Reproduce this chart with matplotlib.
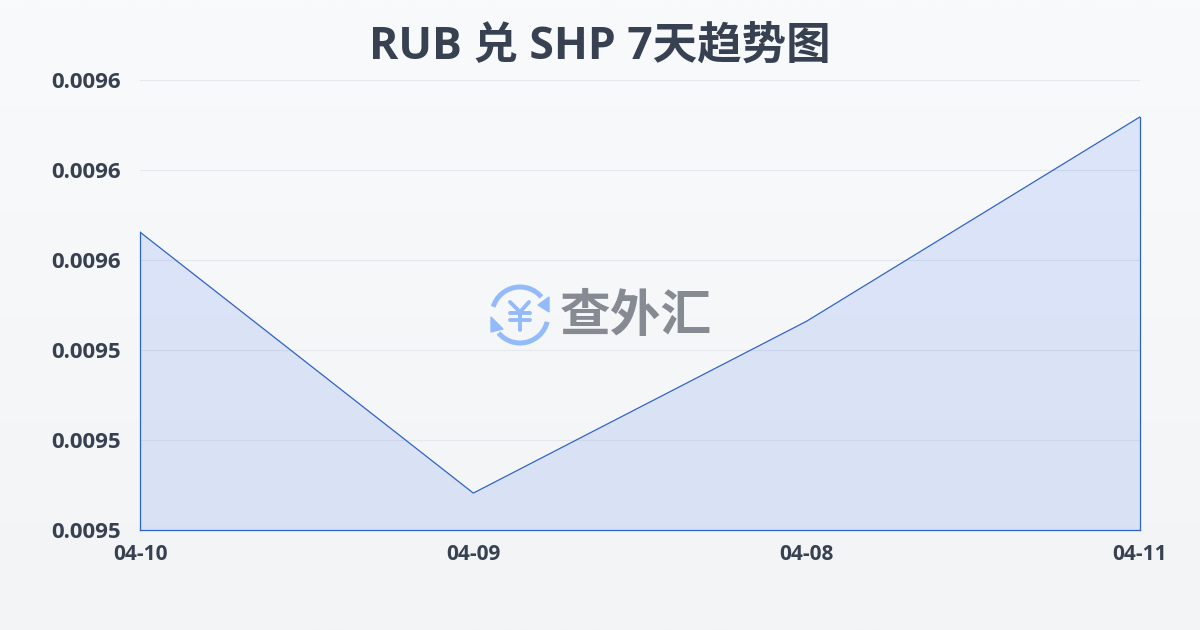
import matplotlib
matplotlib.use('Agg')
import matplotlib.pyplot as plt
from matplotlib.patches import Arc, Polygon
import numpy as np

FONT = ['Open Sans', 'Noto Sans CJK SC', 'DejaVu Sans']
plt.rcParams['font.family'] = FONT

dates = ['04-10', '04-09', '04-08', '04-11']
rates = [0.0095662, 0.0095082, 0.0095464, 0.0095918]
y_ticks = [0.00950, 0.00952, 0.00954, 0.00956, 0.00958, 0.00960]
y_labels = ['0.0095', '0.0095', '0.0095', '0.0096', '0.0096', '0.0096']
title = 'RUB 兑 SHP 7天趋势图'

TEXT = '#374151'
LINE = '#2f62c8'
W, H = 1200, 630

fig = plt.figure(figsize=(12, 6.3), dpi=100)

# page background, light vertical gradient
bg = fig.add_axes([0, 0, 1, 1], zorder=0)
bg.imshow(np.linspace(0, 1, 256).reshape(-1, 1), aspect='auto', extent=[0, W, H, 0],
          cmap=matplotlib.colors.LinearSegmentedColormap.from_list('bg', ['#f9fafc', '#f3f4f6']))
bg.set_xlim(0, W)
bg.set_ylim(H, 0)
bg.axis('off')

ax = fig.add_axes([140 / W, 1 - 530 / H, 1000 / W, 450 / H], zorder=1)
ax.patch.set_alpha(0)
x = np.arange(len(dates))
ax.fill_between(x, rates, y_ticks[0], color='#2563eb', alpha=0.13, linewidth=0, zorder=2)
# outline of the area, all four sides
ax.plot(x, rates, color=LINE, linewidth=0.9, zorder=3)
ax.plot([x[0], x[0]], [y_ticks[0], rates[0]], color=LINE, linewidth=0.9, zorder=3, clip_on=False)
ax.plot([x[-1], x[-1]], [y_ticks[0], rates[-1]], color=LINE, linewidth=0.9, zorder=3, clip_on=False)
ax.plot([x[0], x[-1]], [y_ticks[0], y_ticks[0]], color=LINE, linewidth=0.9, zorder=3, clip_on=False)

ax.set_xlim(x[0], x[-1])
ax.set_ylim(y_ticks[0], y_ticks[-1])
ax.set_xticks(x, dates)
ax.set_yticks(y_ticks, y_labels)
ax.grid(axis='y', color='#e5e7eb', linewidth=0.8, zorder=1)
ax.set_axisbelow(True)
for s in ax.spines.values():
    s.set_visible(False)
ax.tick_params(axis='x', length=0, pad=10, labelsize=15, labelcolor=TEXT)
ax.tick_params(axis='y', length=0, pad=14, labelsize=16, labelcolor=TEXT)
for lab in ax.get_xticklabels() + ax.get_yticklabels():
    lab.set_fontweight('bold')
for lab in ax.get_yticklabels():
    lab.set_y(lab.get_position()[1])

fig.text(0.5, 1 - 47 / H, title, ha='center', va='center', fontsize=32,
         fontweight='bold', color=TEXT)

# watermark logo in pixel coordinates
logo = fig.add_axes([0, 0, 1, 1], zorder=2)
logo.set_xlim(0, W)
logo.set_ylim(H, 0)
logo.axis('off')
logo.patch.set_alpha(0)
BLUE = '#93bbf9'
cx, cy, r = 520, 315, 28
# y axis is flipped here, so Arc angles run clockwise on screen
logo.add_patch(Arc((cx, cy), 2 * r, 2 * r, theta1=197, theta2=320, color=BLUE, linewidth=3.6))
logo.add_patch(Arc((cx, cy), 2 * r, 2 * r, theta1=14, theta2=140, color=BLUE, linewidth=3.6))
logo.add_patch(Polygon([[549, 297], [549, 312], [538, 305]], color=BLUE))
logo.add_patch(Polygon([[491, 317], [491, 332], [503, 329]], color=BLUE))
# yen sign of the icon
yen = dict(color=BLUE, linewidth=2.8, solid_capstyle='round', solid_joinstyle='round')
logo.plot([510, 520, 529], [302, 312, 302], **yen)
logo.plot([510, 530], [313, 313], **yen)
logo.plot([510, 530], [320, 320], **yen)
logo.plot([520, 520], [313, 330], **yen)
logo.text(636, 317, '查外汇', ha='center', va='center', fontsize=36.5, fontweight='bold',
          color='#868a93', family=['Noto Sans CJK SC', 'DejaVu Sans'])

fig.savefig('out.png', dpi=100)
